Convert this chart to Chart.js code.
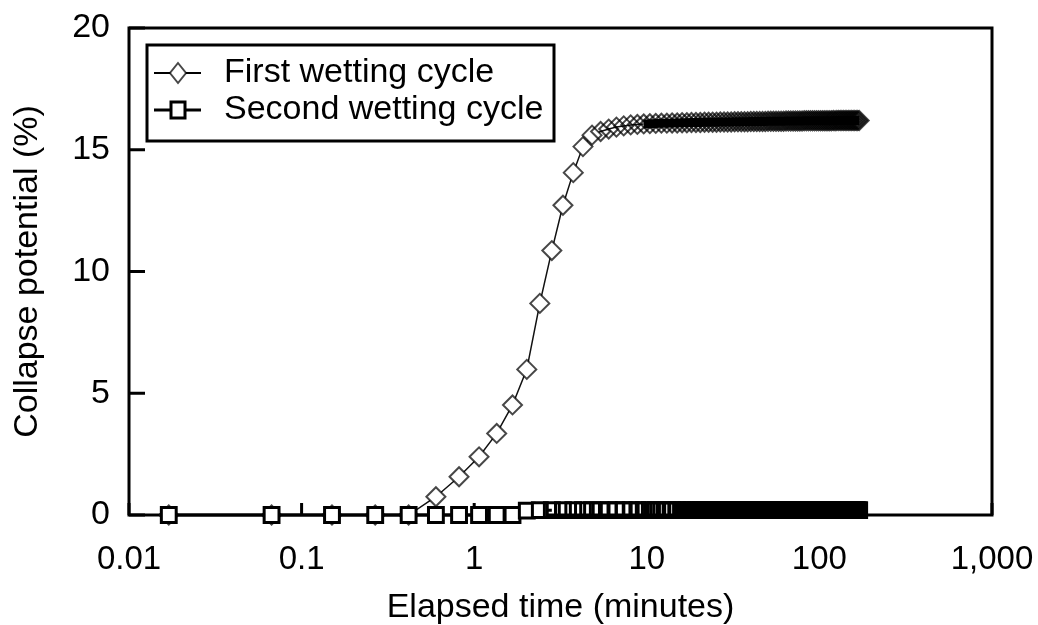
<!DOCTYPE html>
<html>
<head>
<meta charset="utf-8">
<script src="https://cdn.jsdelivr.net/npm/chart.js@4/dist/chart.umd.min.js"></script>
<style>
  html, body { margin: 0; padding: 0; background: #fff; }
  #wrap { width: 1038px; height: 625px; }
</style>
</head>
<body>
<div id="wrap"><canvas id="collapseChart"></canvas></div>
<script>
(() => {
  'use strict'

  // readings taken on the square-root-of-time schedule (minutes)
  const elapsedMinutes = [
    0.017, 0.067, 0.15, 0.267, 0.417, 0.6, 0.817, 1.067, 1.35, 1.667,
    2.017, 2.4, 2.817, 3.267, 3.75, 4.267, 4.817, 5.4, 6.017, 6.667,
    7.35, 8.067, 8.817, 9.6, 10.417, 11.267, 12.15, 13.067, 14.017, 15,
    16.017, 17.067, 18.15, 19.267, 20.417, 21.6, 22.817, 24.067, 25.35, 26.667,
    28.017, 29.4, 30.817, 32.267, 33.75, 35.267, 36.817, 38.4, 40.017, 41.667,
    43.35, 45.067, 46.817, 48.6, 50.417, 52.267, 54.15, 56.067, 58.017, 60,
    62.017, 64.067, 66.15, 68.267, 70.417, 72.6, 74.817, 77.067, 79.35, 81.667,
    84.017, 86.4, 88.817, 91.267, 93.75, 96.267, 98.817, 101.4, 104.017, 106.667,
    109.35, 112.067, 114.817, 117.6, 120.417, 123.267, 126.15, 129.067, 132.017, 135,
    138.017, 141.067, 144.15, 147.267, 150.417, 153.6, 156.817, 160.067, 163.35, 166.667,
    170.017
  ]

  const firstCycle = [
    0, 0, 0, 0, 0, 0.75, 1.57, 2.39, 3.35, 4.52,
    5.98, 8.69, 10.86, 12.72, 14.06, 15.13, 15.6, 15.75, 15.85, 15.93,
    15.98, 16.02, 16.04, 16.06, 16.07, 16.08, 16.09, 16.09, 16.10, 16.10,
    16.11, 16.11, 16.12, 16.12, 16.12, 16.13, 16.13, 16.13, 16.13, 16.14,
    16.14, 16.14, 16.14, 16.15, 16.15, 16.15, 16.15, 16.15, 16.16, 16.16,
    16.16, 16.16, 16.16, 16.16, 16.17, 16.17, 16.17, 16.17, 16.17, 16.17,
    16.17, 16.18, 16.18, 16.18, 16.18, 16.18, 16.18, 16.18, 16.18, 16.19,
    16.19, 16.19, 16.19, 16.19, 16.19, 16.19, 16.19, 16.19, 16.19, 16.19,
    16.19, 16.19, 16.19, 16.19, 16.20, 16.19, 16.20, 16.20, 16.20, 16.20,
    16.20, 16.20, 16.20, 16.20, 16.20, 16.20, 16.20, 16.20, 16.20, 16.20,
    16.20
  ]

  const secondCycle = [
    0, 0, 0, 0, 0, 0, 0, 0, 0, 0,
    0.18, 0.2, 0.2, 0.2, 0.2, 0.2, 0.2, 0.2, 0.2, 0.2,
    0.2, 0.2, 0.2, 0.2, 0.2, 0.2, 0.2, 0.2, 0.2, 0.2,
    0.2, 0.2, 0.2, 0.2, 0.2, 0.2, 0.2, 0.2, 0.2, 0.2,
    0.2, 0.2, 0.2, 0.2, 0.2, 0.2, 0.2, 0.2, 0.2, 0.2,
    0.2, 0.2, 0.2, 0.2, 0.2, 0.2, 0.2, 0.2, 0.2, 0.2,
    0.2, 0.2, 0.2, 0.2, 0.2, 0.2, 0.2, 0.2, 0.2, 0.2,
    0.2, 0.2, 0.2, 0.2, 0.2, 0.2, 0.2, 0.2, 0.2, 0.2,
    0.2, 0.2, 0.2, 0.2, 0.2, 0.2, 0.2, 0.2, 0.2, 0.2,
    0.2, 0.2, 0.2, 0.2, 0.2, 0.2, 0.2, 0.2, 0.2, 0.2,
    0.2
  ]

  const seriesLabels = ['First wetting cycle', 'Second wetting cycle']
  const xTickValues = [0.01, 0.1, 1, 10, 100, 1000]
  const xTickLabels = ['0.01', '0.1', '1', '10', '100', '1,000']
  const yTickValues = [0, 5, 10, 15, 20]

  const FONT = '"Liberation Sans", Arial, Helvetica, sans-serif'
  const DIAMOND = 'rgba(0,0,0,0.72)'
  const CLEAR = 'rgba(0,0,0,0)'

  // box around the plot + inward tick marks
  const frame = {
    id: 'frame',
    beforeDatasetsDraw(chart) {
      const { ctx, chartArea: a, scales: { x, y } } = chart
      ctx.save()
      ctx.strokeStyle = '#000'
      ctx.lineWidth = 3
      ctx.beginPath()
      y.ticks.forEach(t => {
        const py = y.getPixelForValue(t.value)
        ctx.moveTo(a.left, py)
        ctx.lineTo(a.left + 16, py)
      })
      x.ticks.forEach(t => {
        const px = x.getPixelForValue(t.value)
        ctx.moveTo(px, a.bottom)
        ctx.lineTo(px, a.bottom - 12)
      })
      ctx.stroke()
      ctx.strokeRect(a.left, a.top, a.right - a.left, a.bottom - a.top)
      ctx.restore()
    }
  }

  const legendBox = {
    id: 'legendBox',
    afterDraw(chart) {
      const { ctx, chartArea: a } = chart
      const bx = a.left + 18
      const by = a.top + 17
      ctx.save()
      ctx.fillStyle = '#fff'
      ctx.fillRect(bx, by, 407, 96)
      ctx.lineWidth = 3
      ctx.strokeStyle = '#000'
      ctx.strokeRect(bx, by, 407, 96)

      chart.data.datasets.forEach((ds, i) => {
        const cy = by + 28 + i * 37
        const cx = bx + 31
        ctx.beginPath()
        ctx.moveTo(bx + 7, cy)
        ctx.lineTo(bx + 54, cy)
        ctx.lineWidth = i === 0 ? 2 : 3
        ctx.strokeStyle = '#000'
        ctx.stroke()

        ctx.beginPath()
        if (i === 0) {
          ctx.moveTo(cx, cy - 10)
          ctx.lineTo(cx + 8, cy)
          ctx.lineTo(cx, cy + 10)
          ctx.lineTo(cx - 8, cy)
          ctx.closePath()
          ctx.lineWidth = 2
          ctx.strokeStyle = DIAMOND
        } else {
          ctx.rect(cx - 7, cy - 8, 14, 16)
          ctx.lineWidth = 3
          ctx.strokeStyle = '#000'
        }
        ctx.fillStyle = '#fff'
        ctx.fill()
        ctx.stroke()

        ctx.fillStyle = '#000'
        ctx.font = '34px ' + FONT
        ctx.textBaseline = 'middle'
        ctx.fillText(ds.label, bx + 77, cy)
      })
      ctx.restore()
    }
  }

  const ctx = document.getElementById('collapseChart')

  new Chart(ctx, {
    type: 'line',
    data: {
      datasets: [{
        label: seriesLabels[0],
        data: elapsedMinutes.map((t, i) => ({ x: t, y: firstCycle[i] })),
        clip: false,
        borderColor: '#111',
        borderWidth: 1.5,
        // markers pile up into a solid band in the tail
        segment: {
          borderColor: c => c.p0DataIndex >= 23 ? '#000' : undefined,
          borderWidth: c => c.p0DataIndex >= 23 ? 9 : undefined
        },
        pointStyle: 'rectRot',
        pointRadius: 9.5,
        pointBorderWidth: 2,
        pointBorderColor: DIAMOND,
        pointBackgroundColor: c => c.dataIndex > 16 ? CLEAR : '#fff',
        order: 1
      }, {
        label: seriesLabels[1],
        data: elapsedMinutes.map((t, i) => ({ x: t, y: secondCycle[i] })),
        clip: false,
        borderColor: '#000',
        borderWidth: 3,
        segment: {
          borderColor: c => c.p0DataIndex >= 28 ? '#000' : c.p0DataIndex >= 12 ? CLEAR : undefined,
          borderWidth: c => c.p0DataIndex >= 28 ? 13 : undefined
        },
        pointStyle: 'rect',
        pointRadius: 10.5,
        pointBorderWidth: 3,
        pointBorderColor: '#000',
        pointBackgroundColor: c => c.dataIndex >= 12 ? CLEAR : '#fff',
        order: 0
      }]
    },
    options: {
      responsive: true,
      maintainAspectRatio: false,
      animation: false,
      events: [],
      layout: { padding: { top: 28, right: 46, left: 0, bottom: 0 } },
      scales: {
        x: {
          type: 'logarithmic',
          min: 0.01,
          max: 1000,
          afterBuildTicks: s => { s.ticks = xTickValues.map(v => ({ value: v })) },
          afterFit: s => {
            s.height = 110
            s.paddingLeft = 0
            s.paddingRight = 0
          },
          grid: { display: false, drawTicks: false },
          border: { display: false },
          ticks: {
            autoSkip: false,
            maxRotation: 0,
            padding: 25,
            color: '#000',
            font: { family: FONT, size: 33 },
            callback: (v, i) => xTickLabels[i]
          },
          title: {
            display: true,
            text: 'Elapsed time (minutes)',
            color: '#000',
            padding: 0,
            font: { family: FONT, size: 34, lineHeight: 1 }
          }
        },
        y: {
          min: 0,
          max: 20,
          afterBuildTicks: s => { s.ticks = yTickValues.map(v => ({ value: v })) },
          afterFit: s => {
            s.width = 129
            s.paddingTop = 0
            s.paddingBottom = 0
          },
          grid: { display: false, drawTicks: false },
          border: { display: false },
          ticks: {
            padding: 19,
            color: '#000',
            font: { family: FONT, size: 34 }
          },
          title: {
            display: true,
            text: 'Collapse potential (%)',
            color: '#000',
            padding: { top: 7, bottom: 0 },
            font: { family: FONT, size: 34 }
          }
        }
      },
      plugins: {
        legend: { display: false },
        tooltip: { enabled: false }
      }
    },
    plugins: [frame, legendBox]
  })
})()
</script>
</body>
</html>
